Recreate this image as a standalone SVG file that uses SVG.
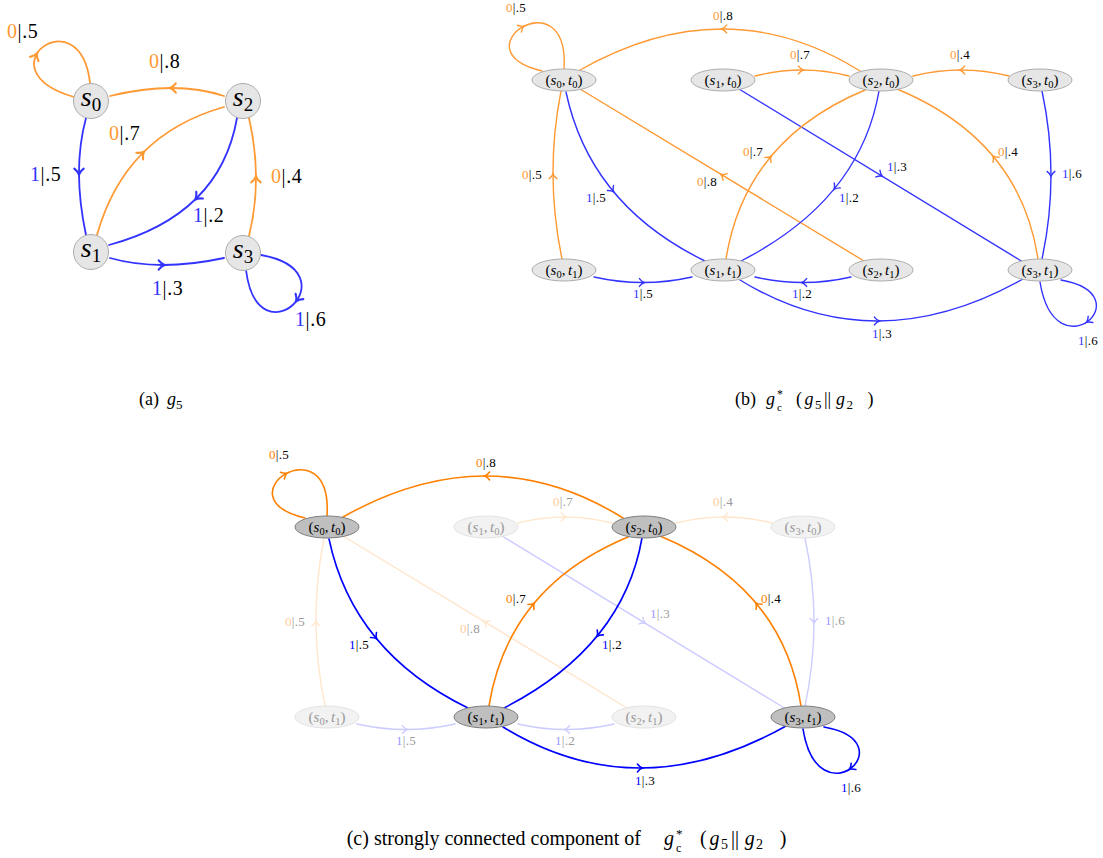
<svg xmlns="http://www.w3.org/2000/svg" width="1103" height="858" viewBox="0 0 1103 858" font-family="'Liberation Serif', 'Times New Roman', serif">
<style>
 text { font-family:'Liberation Serif','Times New Roman',serif; fill:#000; }
 .e { fill:none; stroke-linecap:round; }
 .wa { stroke-width:1.8 }
 .wb { stroke-width:1.4 }
 .o8 { stroke:#ff9933 } .b8 { stroke:#3333ff }
 .os { stroke:#ff8000; stroke-width:1.6 } .bs { stroke:#0000ff; stroke-width:1.6 }
 .of { stroke:#ffe6cc } .bf { stroke:#ccccff }
 .na { fill:#e6e6e6; stroke:#adadad; stroke-width:1 }
 .ns { fill:#bfbfbf; stroke:#7f7f7f; stroke-width:1 }
 .nf { fill:#f2f2f2; stroke:#e3e3e3; stroke-width:1 }
 .la { font-size:20px; letter-spacing:0.6px }
 .lb { font-size:13px; letter-spacing:0.3px }
 .co8 { fill:#ff9933 } .cb8 { fill:#3333ff }
 .cos { fill:#ff8000 } .cbs { fill:#0000ff }
 .cof { fill:#ffcc99 } .cbf { fill:#9999ff }
 .gf { fill:#999999 }
 .i { font-style:italic }
 .nt { font-size:15px; text-anchor:middle }
 .sb { font-size:10.5px }
 .cap { font-size:18px }
 .capc { font-size:20px }
</style>
<defs>
 <path id="ah" d="M-3.6,-3.9 Q-1.3,-0.9 1.4,0 Q-1.3,0.9 -3.6,3.9" fill="none"/>
</defs>

<!-- ===== Panel (a) ===== -->
<g id="connectors-a">
 <g class="e wa o8"><path d="M74,97 C-20,70 80,-5 90,83"/><use href="#ah" transform="translate(36.2,55.1) rotate(-63.4) scale(1.2)"/></g>
 <g class="e wa o8"><path d="M224,96 Q176,80 110,96"/><use href="#ah" transform="translate(171.5,88) rotate(180) scale(1.2)"/></g>
 <g class="e wa o8"><path d="M97,235 Q125,135 224,107"/><use href="#ah" transform="translate(142.75,153) rotate(-45.2) scale(1.2)"/></g>
 <g class="e wa b8"><path d="M86,118 Q72,169.5 86,235"/><use href="#ah" transform="translate(79,173) rotate(90) scale(1.2)"/></g>
 <g class="e wa b8"><path d="M237,118 Q220,215 109,245"/><use href="#ah" transform="translate(196.5,198.25) rotate(135.2) scale(1.2)"/></g>
 <g class="e wa o8"><path d="M249,236 Q263,179 249,118"/><use href="#ah" transform="translate(256,178) rotate(-90) scale(1.2)"/></g>
 <g class="e wa b8"><path d="M110,258 Q159,272 224,258"/><use href="#ah" transform="translate(163,265) rotate(0) scale(1.2)"/></g>
 <g class="e wa b8"><path d="M261,255 C355,272 258,365 246,270"/><use href="#ah" transform="translate(297,300) rotate(124.6) scale(1.2)"/></g>
</g>
<g id="labels-a" class="la">
 <text x="7" y="38"><tspan class="co8">0</tspan>|.5</text>
 <text x="149" y="68"><tspan class="co8">0</tspan>|.8</text>
 <text x="109" y="140"><tspan class="co8">0</tspan>|.7</text>
 <text x="30" y="181"><tspan class="cb8">1</tspan>|.5</text>
 <text x="193" y="222"><tspan class="cb8">1</tspan>|.2</text>
 <text x="271" y="183"><tspan class="co8">0</tspan>|.4</text>
 <text x="152" y="295"><tspan class="cb8">1</tspan>|.3</text>
 <text x="295" y="326"><tspan class="cb8">1</tspan>|.6</text>
</g>
<g id="a-s0"><circle class="na" cx="91" cy="101" r="17.5"/><text x="91" y="106" text-anchor="middle" font-size="28"><tspan class="i">s</tspan><tspan font-size="19" dy="5">0</tspan></text></g>
<g id="a-s2"><circle class="na" cx="243" cy="101" r="17.5"/><text x="243" y="106" text-anchor="middle" font-size="28"><tspan class="i">s</tspan><tspan font-size="19" dy="5">2</tspan></text></g>
<g id="a-s1"><circle class="na" cx="91" cy="252" r="17.5"/><text x="91" y="257" text-anchor="middle" font-size="28"><tspan class="i">s</tspan><tspan font-size="19" dy="5">1</tspan></text></g>
<g id="a-s3"><circle class="na" cx="243" cy="253" r="17.5"/><text x="243" y="258" text-anchor="middle" font-size="28"><tspan class="i">s</tspan><tspan font-size="19" dy="5">3</tspan></text></g>

<!-- ===== Panel (b) ===== -->
<g id="connectors-b">
 <g class="e wb o8"><path d="M542,71 C455,50 570,-25 564,69"/><use href="#ah" transform="translate(522.6,26.9) rotate(-29.3)"/></g>
 <g class="e wb o8"><path d="M860,71 Q726,-12.5 580,70"/><use href="#ah" transform="translate(723,29) rotate(180)"/></g>
 <g class="e wb o8"><path d="M755,76 Q802,64 849,76"/><use href="#ah" transform="translate(802,70) rotate(0)"/></g>
 <g class="e wb o8"><path d="M1009,76 Q961,64 913,76"/><use href="#ah" transform="translate(961,70) rotate(180)"/></g>
 <g class="e wb o8"><path d="M562,259 Q544.5,175 561,91"/><use href="#ah" transform="translate(553,175) rotate(-90)"/></g>
 <g class="e wb b8"><path d="M566,92 Q590,205 705,261"/><use href="#ah" transform="translate(612.75,190.75) rotate(50.6)"/></g>
 <g class="e wb o8"><path d="M864,261 L580,89"/><use href="#ah" transform="translate(722,175) rotate(211.2)"/></g>
 <g class="e wb b8"><path d="M739,89 L1023,262"/><use href="#ah" transform="translate(881,175.5) rotate(31.35)"/></g>
 <g class="e wb o8"><path d="M726,259 Q745,140 865,90"/><use href="#ah" transform="translate(770.25,157.25) rotate(-50.6)"/></g>
 <g class="e wb b8"><path d="M879,91 Q860,200 741,261"/><use href="#ah" transform="translate(835,188.25) rotate(129.1)"/></g>
 <g class="e wb o8"><path d="M1038,259 Q1020,140 897,89"/><use href="#ah" transform="translate(993.75,157) rotate(-129.7)"/></g>
 <g class="e wb b8"><path d="M1042,91 Q1060,175 1042,259"/><use href="#ah" transform="translate(1051,175) rotate(90)"/></g>
 <g class="e wb b8"><path d="M594,277 Q643,288 692,277"/><use href="#ah" transform="translate(643,282.5) rotate(0)"/></g>
 <g class="e wb b8"><path d="M851,277 Q803,288 755,277"/><use href="#ah" transform="translate(803,282.5) rotate(180)"/></g>
 <g class="e wb b8"><path d="M740,280 Q874.5,362.5 1023,279"/><use href="#ah" transform="translate(878,321) rotate(0)"/></g>
 <g class="e wb b8"><path d="M1061,280 C1145,295 1055,375 1040,282"/><use href="#ah" transform="translate(1087.6,321.5) rotate(143.5)"/></g>
</g>
<g id="labels-b" class="lb">
 <text x="506" y="12"><tspan class="co8">0</tspan>|.5</text>
 <text x="713" y="20"><tspan class="co8">0</tspan>|.8</text>
 <text x="790" y="59"><tspan class="co8">0</tspan>|.7</text>
 <text x="950" y="59"><tspan class="co8">0</tspan>|.4</text>
 <text x="522" y="179"><tspan class="co8">0</tspan>|.5</text>
 <text x="586" y="202"><tspan class="cb8">1</tspan>|.5</text>
 <text x="697" y="186"><tspan class="co8">0</tspan>|.8</text>
 <text x="887" y="171"><tspan class="cb8">1</tspan>|.3</text>
 <text x="743" y="156"><tspan class="co8">0</tspan>|.7</text>
 <text x="839" y="202"><tspan class="cb8">1</tspan>|.2</text>
 <text x="998" y="156"><tspan class="co8">0</tspan>|.4</text>
 <text x="1062" y="178"><tspan class="cb8">1</tspan>|.6</text>
 <text x="633" y="298"><tspan class="cb8">1</tspan>|.5</text>
 <text x="792" y="298"><tspan class="cb8">1</tspan>|.2</text>
 <text x="872" y="338"><tspan class="cb8">1</tspan>|.3</text>
 <text x="1078" y="345"><tspan class="cb8">1</tspan>|.6</text>
</g>
<g id="b-s0t0"><ellipse class="na" cx="564" cy="80" rx="32" ry="11"/><text class="nt" x="564" y="84.5">(<tspan class="i">s</tspan><tspan class="sb" dy="3">0</tspan><tspan dy="-3">,</tspan><tspan class="i" dx="2.5">t</tspan><tspan class="sb" dy="3">0</tspan><tspan dy="-3">)</tspan></text></g>
<g id="b-s1t0"><ellipse class="na" cx="723" cy="80" rx="32" ry="11"/><text class="nt" x="723" y="84.5">(<tspan class="i">s</tspan><tspan class="sb" dy="3">1</tspan><tspan dy="-3">,</tspan><tspan class="i" dx="2.5">t</tspan><tspan class="sb" dy="3">0</tspan><tspan dy="-3">)</tspan></text></g>
<g id="b-s2t0"><ellipse class="na" cx="881" cy="80" rx="32" ry="11"/><text class="nt" x="881" y="84.5">(<tspan class="i">s</tspan><tspan class="sb" dy="3">2</tspan><tspan dy="-3">,</tspan><tspan class="i" dx="2.5">t</tspan><tspan class="sb" dy="3">0</tspan><tspan dy="-3">)</tspan></text></g>
<g id="b-s3t0"><ellipse class="na" cx="1040" cy="80" rx="32" ry="11"/><text class="nt" x="1040" y="84.5">(<tspan class="i">s</tspan><tspan class="sb" dy="3">3</tspan><tspan dy="-3">,</tspan><tspan class="i" dx="2.5">t</tspan><tspan class="sb" dy="3">0</tspan><tspan dy="-3">)</tspan></text></g>
<g id="b-s0t1"><ellipse class="na" cx="564" cy="270" rx="32" ry="11"/><text class="nt" x="564" y="274.5">(<tspan class="i">s</tspan><tspan class="sb" dy="3">0</tspan><tspan dy="-3">,</tspan><tspan class="i" dx="2.5">t</tspan><tspan class="sb" dy="3">1</tspan><tspan dy="-3">)</tspan></text></g>
<g id="b-s1t1"><ellipse class="na" cx="723" cy="270" rx="32" ry="11"/><text class="nt" x="723" y="274.5">(<tspan class="i">s</tspan><tspan class="sb" dy="3">1</tspan><tspan dy="-3">,</tspan><tspan class="i" dx="2.5">t</tspan><tspan class="sb" dy="3">1</tspan><tspan dy="-3">)</tspan></text></g>
<g id="b-s2t1"><ellipse class="na" cx="881" cy="270" rx="32" ry="11"/><text class="nt" x="881" y="274.5">(<tspan class="i">s</tspan><tspan class="sb" dy="3">2</tspan><tspan dy="-3">,</tspan><tspan class="i" dx="2.5">t</tspan><tspan class="sb" dy="3">1</tspan><tspan dy="-3">)</tspan></text></g>
<g id="b-s3t1"><ellipse class="na" cx="1040" cy="270" rx="32" ry="11"/><text class="nt" x="1040" y="274.5">(<tspan class="i">s</tspan><tspan class="sb" dy="3">3</tspan><tspan dy="-3">,</tspan><tspan class="i" dx="2.5">t</tspan><tspan class="sb" dy="3">1</tspan><tspan dy="-3">)</tspan></text></g>

<!-- ===== Panel (c) ===== -->
<g transform="translate(-237,447)">
 <g id="connectors-c">
  <g class="e wb of"><path d="M755,76 Q802,64 849,76"/><use href="#ah" transform="translate(802,70) rotate(0)"/></g>
  <g class="e wb of"><path d="M1009,76 Q961,64 913,76"/><use href="#ah" transform="translate(961,70) rotate(180)"/></g>
  <g class="e wb of"><path d="M562,259 Q544.5,175 561,91"/><use href="#ah" transform="translate(553,175) rotate(-90)"/></g>
  <g class="e wb of"><path d="M864,261 L580,89"/><use href="#ah" transform="translate(722,175) rotate(211.2)"/></g>
  <g class="e wb bf"><path d="M739,89 L1023,262"/><use href="#ah" transform="translate(881,175.5) rotate(31.35)"/></g>
  <g class="e wb bf"><path d="M1042,91 Q1060,175 1042,259"/><use href="#ah" transform="translate(1051,175) rotate(90)"/></g>
  <g class="e wb bf"><path d="M594,277 Q643,288 692,277"/><use href="#ah" transform="translate(643,282.5) rotate(0)"/></g>
  <g class="e wb bf"><path d="M851,277 Q803,288 755,277"/><use href="#ah" transform="translate(803,282.5) rotate(180)"/></g>
  <g class="e os"><path d="M542,71 C455,50 570,-25 564,69"/><use href="#ah" transform="translate(522.6,26.9) rotate(-29.3)"/></g>
  <g class="e os"><path d="M860,71 Q726,-12.5 580,70"/><use href="#ah" transform="translate(723,29) rotate(180)"/></g>
  <g class="e bs"><path d="M566,92 Q590,205 705,261"/><use href="#ah" transform="translate(612.75,190.75) rotate(50.6)"/></g>
  <g class="e os"><path d="M726,259 Q745,140 865,90"/><use href="#ah" transform="translate(770.25,157.25) rotate(-50.6)"/></g>
  <g class="e bs"><path d="M879,91 Q860,200 741,261"/><use href="#ah" transform="translate(835,188.25) rotate(129.1)"/></g>
  <g class="e os"><path d="M1038,259 Q1020,140 897,89"/><use href="#ah" transform="translate(993.75,157) rotate(-129.7)"/></g>
  <g class="e bs"><path d="M740,280 Q874.5,362.5 1023,279"/><use href="#ah" transform="translate(878,321) rotate(0)"/></g>
  <g class="e bs"><path d="M1061,280 C1145,295 1055,375 1040,282"/><use href="#ah" transform="translate(1087.6,321.5) rotate(143.5)"/></g>
 </g>
 <g id="labels-c" class="lb">
  <text x="506" y="12"><tspan class="cos">0</tspan>|.5</text>
  <text x="713" y="20"><tspan class="cos">0</tspan>|.8</text>
  <text class="gf" x="790" y="59"><tspan class="cof">0</tspan>|.7</text>
  <text class="gf" x="950" y="59"><tspan class="cof">0</tspan>|.4</text>
  <text class="gf" x="522" y="179"><tspan class="cof">0</tspan>|.5</text>
  <text x="586" y="202"><tspan class="cbs">1</tspan>|.5</text>
  <text class="gf" x="697" y="186"><tspan class="cof">0</tspan>|.8</text>
  <text class="gf" x="887" y="171"><tspan class="cbf">1</tspan>|.3</text>
  <text x="743" y="156"><tspan class="cos">0</tspan>|.7</text>
  <text x="839" y="202"><tspan class="cbs">1</tspan>|.2</text>
  <text x="998" y="156"><tspan class="cos">0</tspan>|.4</text>
  <text class="gf" x="1062" y="178"><tspan class="cbf">1</tspan>|.6</text>
  <text class="gf" x="633" y="298"><tspan class="cbf">1</tspan>|.5</text>
  <text class="gf" x="792" y="298"><tspan class="cbf">1</tspan>|.2</text>
  <text x="872" y="338"><tspan class="cbs">1</tspan>|.3</text>
  <text x="1078" y="345"><tspan class="cbs">1</tspan>|.6</text>
 </g>
 <g id="c-s0t0"><ellipse class="ns" cx="564" cy="80" rx="32" ry="11"/><text class="nt" x="564" y="84.5">(<tspan class="i">s</tspan><tspan class="sb" dy="3">0</tspan><tspan dy="-3">,</tspan><tspan class="i" dx="2.5">t</tspan><tspan class="sb" dy="3">0</tspan><tspan dy="-3">)</tspan></text></g>
 <g id="c-s1t0"><ellipse class="nf" cx="723" cy="80" rx="32" ry="11"/><text class="nt gf" x="723" y="84.5">(<tspan class="i">s</tspan><tspan class="sb" dy="3">1</tspan><tspan dy="-3">,</tspan><tspan class="i" dx="2.5">t</tspan><tspan class="sb" dy="3">0</tspan><tspan dy="-3">)</tspan></text></g>
 <g id="c-s2t0"><ellipse class="ns" cx="881" cy="80" rx="32" ry="11"/><text class="nt" x="881" y="84.5">(<tspan class="i">s</tspan><tspan class="sb" dy="3">2</tspan><tspan dy="-3">,</tspan><tspan class="i" dx="2.5">t</tspan><tspan class="sb" dy="3">0</tspan><tspan dy="-3">)</tspan></text></g>
 <g id="c-s3t0"><ellipse class="nf" cx="1040" cy="80" rx="32" ry="11"/><text class="nt gf" x="1040" y="84.5">(<tspan class="i">s</tspan><tspan class="sb" dy="3">3</tspan><tspan dy="-3">,</tspan><tspan class="i" dx="2.5">t</tspan><tspan class="sb" dy="3">0</tspan><tspan dy="-3">)</tspan></text></g>
 <g id="c-s0t1"><ellipse class="nf" cx="564" cy="270" rx="32" ry="11"/><text class="nt gf" x="564" y="274.5">(<tspan class="i">s</tspan><tspan class="sb" dy="3">0</tspan><tspan dy="-3">,</tspan><tspan class="i" dx="2.5">t</tspan><tspan class="sb" dy="3">1</tspan><tspan dy="-3">)</tspan></text></g>
 <g id="c-s1t1"><ellipse class="ns" cx="723" cy="270" rx="32" ry="11"/><text class="nt" x="723" y="274.5">(<tspan class="i">s</tspan><tspan class="sb" dy="3">1</tspan><tspan dy="-3">,</tspan><tspan class="i" dx="2.5">t</tspan><tspan class="sb" dy="3">1</tspan><tspan dy="-3">)</tspan></text></g>
 <g id="c-s2t1"><ellipse class="nf" cx="881" cy="270" rx="32" ry="11"/><text class="nt gf" x="881" y="274.5">(<tspan class="i">s</tspan><tspan class="sb" dy="3">2</tspan><tspan dy="-3">,</tspan><tspan class="i" dx="2.5">t</tspan><tspan class="sb" dy="3">1</tspan><tspan dy="-3">)</tspan></text></g>
 <g id="c-s3t1"><ellipse class="ns" cx="1040" cy="270" rx="32" ry="11"/><text class="nt" x="1040" y="274.5">(<tspan class="i">s</tspan><tspan class="sb" dy="3">3</tspan><tspan dy="-3">,</tspan><tspan class="i" dx="2.5">t</tspan><tspan class="sb" dy="3">1</tspan><tspan dy="-3">)</tspan></text></g>
</g>

<!-- ===== Captions ===== -->
<g id="captions">
 <text class="cap" x="139" y="405">(a)<tspan class="i" x="167">g</tspan><tspan font-size="13" x="176" y="409">5</tspan></text>
 <text class="cap" x="735" y="405">(b)<tspan class="i" x="766">g</tspan><tspan font-size="12" x="777" y="398">*</tspan><tspan font-size="11" x="777" y="411">c</tspan><tspan x="796" y="405">(</tspan><tspan class="i" x="804.5">g</tspan><tspan font-size="13" x="815" y="409">5</tspan><tspan x="824" y="405">||</tspan><tspan class="i" x="836">g</tspan><tspan font-size="13" x="846.5" y="409">2</tspan><tspan x="867.5" y="405">)</tspan></text>
 <text class="capc" x="346.7" y="845">(c) strongly connected component of<tspan class="i" x="664">g</tspan><tspan font-size="13" x="676" y="838">*</tspan><tspan font-size="12" x="676" y="852">c</tspan><tspan x="700" y="845">(</tspan><tspan class="i" x="709.5">g</tspan><tspan font-size="14" x="721" y="849">5</tspan><tspan x="731" y="845">||</tspan><tspan class="i" x="744.8">g</tspan><tspan font-size="14" x="756" y="849">2</tspan><tspan x="779.7" y="845">)</tspan></text>
</g>
</svg>
